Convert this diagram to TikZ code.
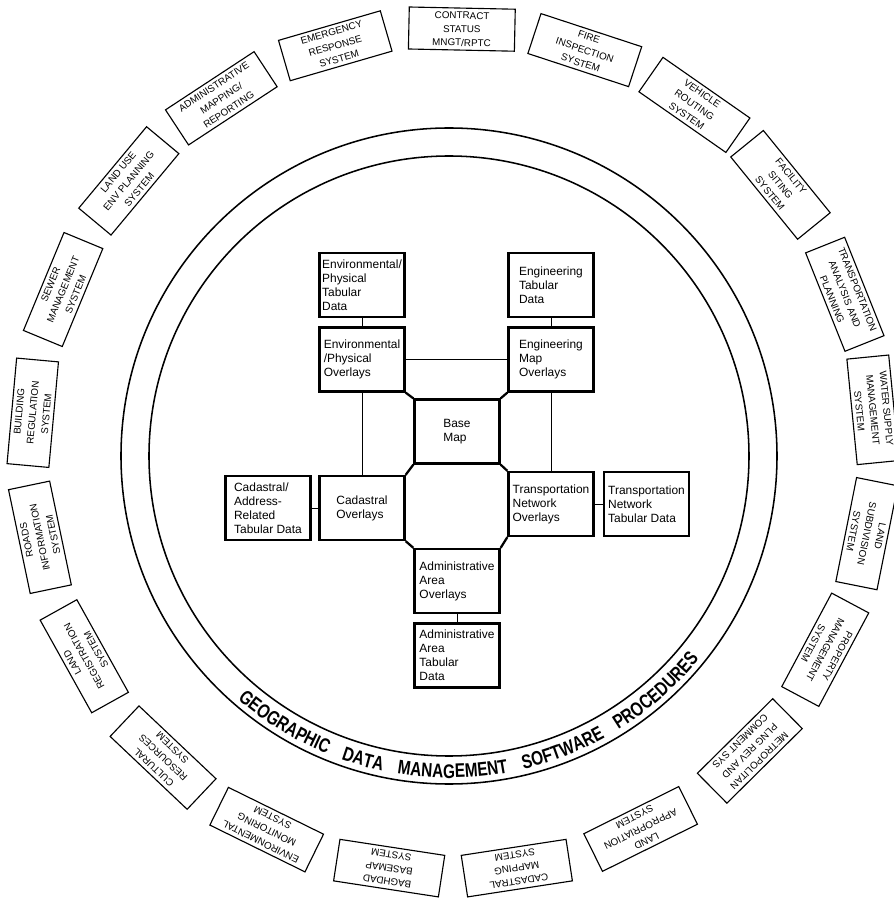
\documentclass[tikz,border=0pt]{standalone}
\usepackage{fontspec}
\setmainfont{Liberation Sans}
\newfontfamily\arcfont{Liberation Sans}[FakeStretch=0.78]
\usetikzlibrary{decorations.text}

\begin{document}
\begin{tikzpicture}[
  databox/.style={draw, line width=1.6pt, minimum width=2.125cm,
                  minimum height=1.6cm, align=left, inner sep=1pt,
                  font=\fontsize{8.5}{10}\selectfont},
  ringbox/.style={draw, line width=0.8pt, minimum width=2.65cm,
                  minimum height=1.05cm, align=center, inner sep=1pt,
                  font=\fontsize{7}{9.7}\selectfont},
  link/.style={line width=0.7pt},
  chamfer/.style={line width=1.6pt},
]
  \useasboundingbox (-11.225,-11.15) rectangle (11.125,11.4);

  \draw[line width=1.1pt] (0,0) circle[radius=8.2];
  \draw[line width=1.1pt] (0,0) circle[radius=7.5];
  \path[decorate, decoration={text along path,
      text align={fit to path stretching spaces},
      text={|\arcfont\bfseries\fontsize{14}{14}\selectfont|GEOGRAPHIC DATA MANAGEMENT SOFTWARE PROCEDURES}}]
    (229:8.05) arc[start angle=229, end angle=321, radius=8.05];

  \node[databox] (envtab) at (-2.175, 4.27) {Environmental/\\Physical\\Tabular\\Data};
  \node[databox] (engtab) at (2.55, 4.27) {Engineering\\Tabular\\Data};
  \node[databox] (envov) at (-2.175, 2.4125) {Environmental\\/Physical\\Overlays};
  \node[databox] (engov) at (2.55, 2.4125) {Engineering\\Map\\Overlays};
  \node[databox] (base) at (0.2, 0.6125) {Base\\Map};
  \node[databox] (cadov) at (-2.175, -1.3) {Cadastral\\Overlays};
  \node[databox] (transov) at (2.55, -1.2) {Transportation\\Network\\Overlays};
  \node[databox] (cadtab) at (-4.525, -1.3) {Cadastral/\\Address-\\Related\\Tabular Data};
  \node[databox] (transtab) at (4.9375, -1.2) {Transportation\\Network\\Tabular Data};
  \node[databox] (adminov) at (0.2, -3.125) {Administrative\\Area\\Overlays};
  \node[databox] (admintab) at (0.2, -4.9875) {Administrative\\Area\\Tabular\\Data};

  \draw[link] (envtab) -- (envov);
  \draw[link] (engtab) -- (engov);
  \draw[link] (envov) -- (engov);
  \draw[link] (envov) -- (cadov);
  \draw[link] (engov) -- (transov);
  \draw[link] (cadtab) -- (cadov);
  \draw[link] (transov) -- (transtab);
  \draw[link] (adminov) -- (admintab);

  \draw[chamfer] (envov.south east) -- (base.north west);
  \draw[chamfer] (engov.south west) -- (base.north east);
  \draw[chamfer] (base.south west) -- (cadov.north east);
  \draw[chamfer] (base.south east) -- (transov.north west);
  \draw[chamfer] (cadov.south east) -- (adminov.north west);
  \draw[chamfer] (transov.south west) -- (adminov.north east);

  \coordinate (ring) at (0.1, 0.125);
  \foreach \ang/\txt [count=\i] in {
      88.8/{CONTRACT\\STATUS\\MNGT/RPTC},
      71.8/{FIRE\\INSPECTION\\SYSTEM},
      55.1/{VEHICLE\\ROUTING\\SYSTEM},
      39.1/{FACILITY\\SITING\\SYSTEM},
      21.8/{TRANSPORTATION\\ANALYSIS AND\\PLANNING},
      5.6/{WATER SUPPLY\\MANAGEMENT\\SYSTEM},
      -11.3/{LAND\\SUBDIVISION\\SYSTEM},
      -28.1/{PROPERTY\\MANAGEMENT\\SYSTEM},
      -45.3/{METROPOLITAN\\PLNG REV AND\\COMMENT SYS},
      -63.6/{LAND\\APPROPRIATION\\SYSTEM},
      -81.3/{CADASTRAL\\MAPPING\\SYSTEM},
      -98.7/{BAGHDAD\\BASEMAP\\SYSTEM},
      -116.2/{ENVIRONMENTAL\\MONITORING\\SYSTEM},
      -133.4/{CULTURAL\\RESOURCES\\SYSTEM},
      -150.9/{LAND\\REGISTRATION\\SYSTEM},
      -168.2/{ROADS\\INFORMATION\\SYSTEM},
      174.8/{BUILDING\\REGULATION\\SYSTEM},
      157.5/{SEWER\\MANAGEMENT\\SYSTEM},
      140.2/{LAND USE\\ENV PLANNING\\SYSTEM},
      123.3/{ADMINISTRATIVE\\MAPPING/\\REPORTING},
      106.2/{EMERGENCY\\RESPONSE\\SYSTEM}}
    \node[ringbox, rotate=\ang-90] (sys\i) at ([shift={(\ang:10.55)}]ring) {\txt};
\end{tikzpicture}
\end{document}
